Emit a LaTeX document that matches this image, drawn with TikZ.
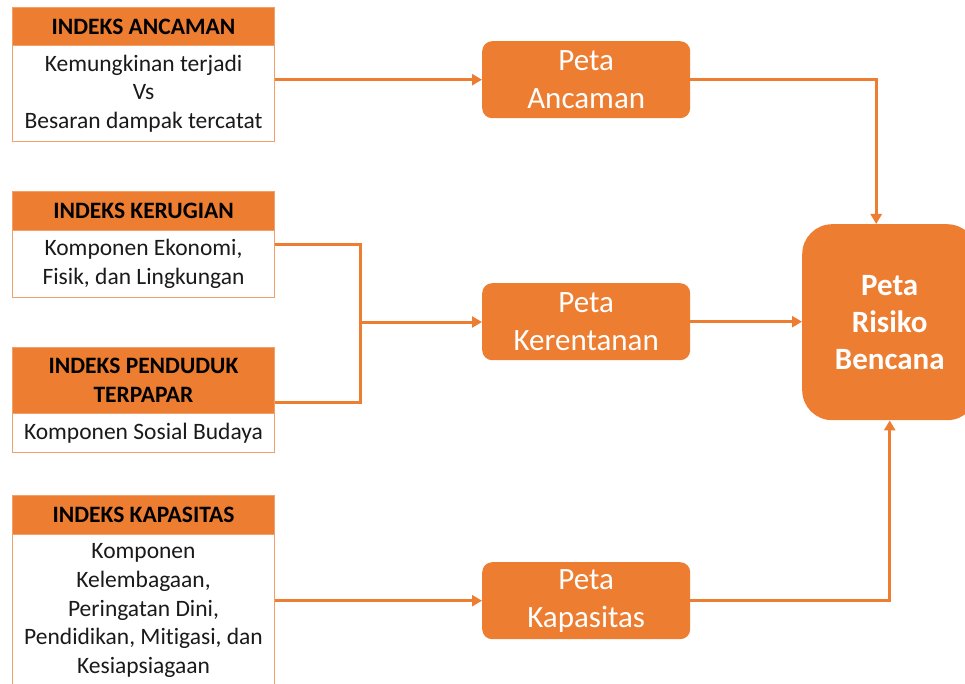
\documentclass[tikz,border=0pt]{standalone}
\usepackage{fontspec}
\setmainfont[Ligatures=NoCommon]{Carlito}
\usetikzlibrary{arrows.meta,calc}
\definecolor{accent}{HTML}{ED7D31}
\definecolor{rim}{HTML}{F2A06A}
\definecolor{ink}{HTML}{1A1A1A}
\tikzset{
  idxhead/.style={draw=rim, line width=1pt, fill=accent, inner sep=0pt,
    minimum width=262pt, anchor=north west, align=center, text=black,
    font=\fontsize{23.5}{29}\selectfont\bfseries},
  idxbody/.style={draw=rim, line width=1pt, fill=white, inner sep=0pt,
    minimum width=262pt, anchor=north west, align=center, text=ink,
    font=\fontsize{23.5}{28.6}\selectfont},
  mapbox/.style={fill=accent, rounded corners=10pt, inner sep=0pt,
    minimum width=208pt, minimum height=77pt, anchor=north west,
    align=center, text=white, font=\fontsize{31}{38}\selectfont},
  finalbox/.style={fill=accent, rounded corners=30pt, inner sep=0pt,
    minimum width=175pt, minimum height=196pt, anchor=north west,
    align=center, text=white, font=\fontsize{31}{37}\selectfont\bfseries},
  link/.style={draw=accent, line width=3pt},
  arr/.style={link, -{Triangle[length=10pt,width=11pt]}},
}
\begin{document}
\begin{tikzpicture}[x=1pt,y=-1pt]
\useasboundingbox (0,0) rectangle (965,684);

% index boxes: orange heading over a white body
\node[idxhead, minimum height=38pt] (h1) at (12,7) {INDEKS ANCAMAN};
\node[idxbody, minimum height=96pt] (b1) at (12,45)
  {Kemungkinan terjadi\\Vs\\Besaran dampak tercatat};

\node[idxhead, minimum height=39pt] (h2) at (12,191) {INDEKS KERUGIAN};
\node[idxbody, minimum height=67pt] (b2) at (12,230)
  {Komponen Ekonomi,\\Fisik, dan Lingkungan};

\node[idxhead, minimum height=66pt] (h3) at (12,347) {INDEKS PENDUDUK\\TERPAPAR};
\node[idxbody, minimum height=39pt] (b3) at (12,413) {Komponen Sosial Budaya};

\node[idxhead, minimum height=39pt] (h4) at (12,495) {INDEKS KAPASITAS};
\node[idxbody, minimum height=152pt] (b4) at (12,534)
  {Komponen\\Kelembagaan,\\Peringatan Dini,\\Pendidikan, Mitigasi, dan\\Kesiapsiagaan};

% intermediate maps
\node[mapbox] (pa) at (482,41) {Peta\\Ancaman};
\node[mapbox] (pk) at (482,283) {Peta\\Kerentanan};
\node[mapbox] (pkap) at (482,562) {Peta\\Kapasitas};

% final risk map
\node[finalbox] (risk) at (802,224) {Peta\\Risiko\\Bencana};

% connectors
\coordinate (join) at (360,322);
\draw[arr] (b1.east |- pa.west) -- (pa.west);
\draw[link] ([yshift=19.5pt]b2.east) -| (join);
\draw[link] ([yshift=-22pt]h3.east) -| (join);
\draw[arr] (join) -- (pk.west |- join);
\draw[arr] (b4.east |- pkap.west) -- (pkap.west);
\draw[arr] (pa.east) -| ([xshift=-13.5pt]risk.north);
\draw[arr] (pk.east) -- (risk.west |- pk.east);
\draw[arr] (pkap.east) -| (risk.south);
\end{tikzpicture}
\end{document}
